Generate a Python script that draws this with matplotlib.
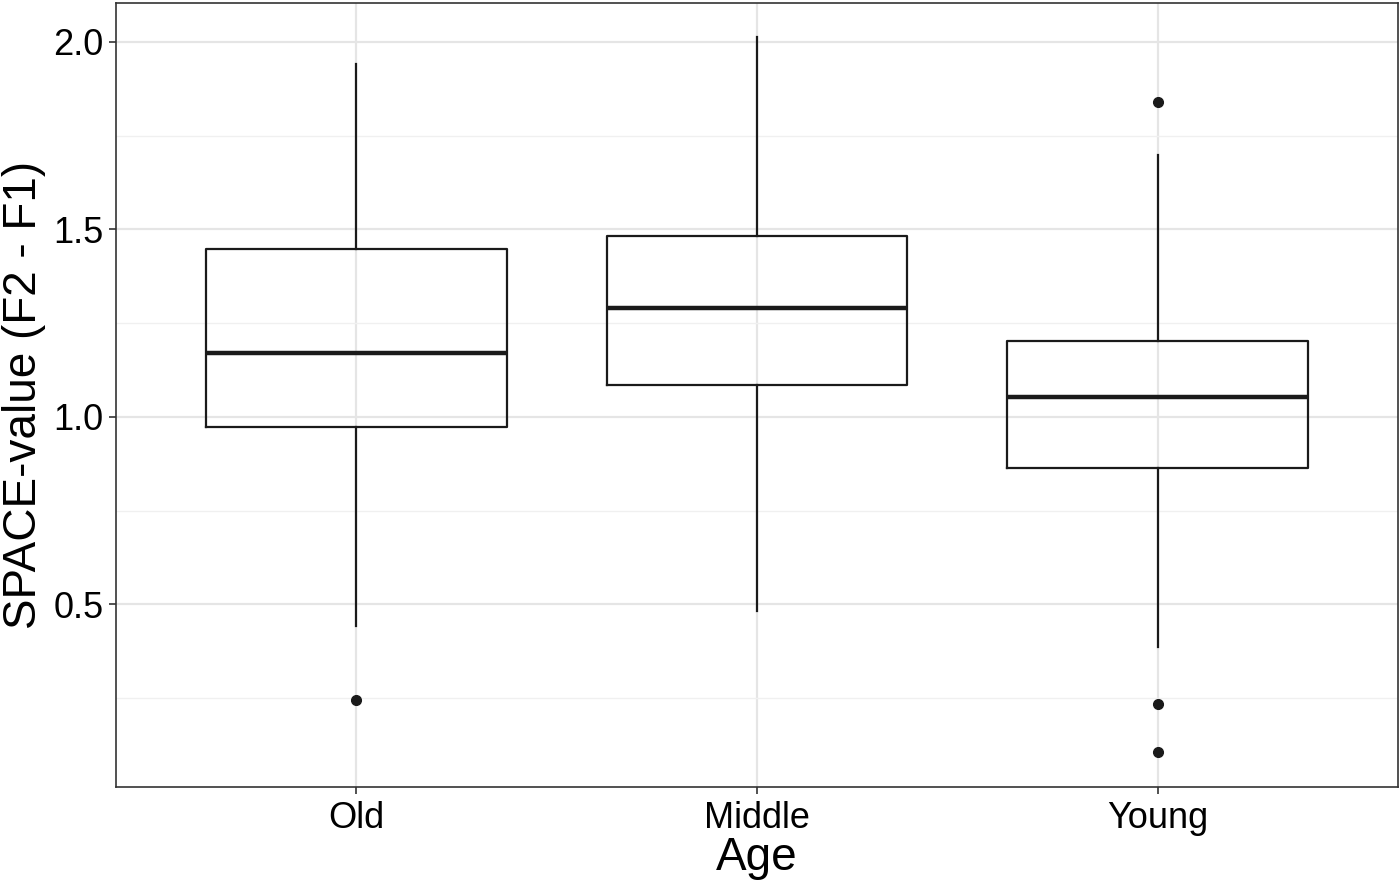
import matplotlib
matplotlib.use("Agg")
import matplotlib.pyplot as plt
from matplotlib.ticker import MultipleLocator

plt.rcParams['font.family'] = ['Liberation Sans', 'DejaVu Sans']

# 箱线图统计值
groups = ['Old', 'Middle', 'Young']
whisker_low = [0.443, 0.483, 0.387]
q1 = [0.973, 1.085, 0.864]
median = [1.171, 1.291, 1.053]
q3 = [1.448, 1.483, 1.203]
whisker_high = [1.941, 2.013, 1.699]
outliers = [[0.245], [], [1.840, 0.235, 0.107]]

stats = []
for i, name in enumerate(groups):
    stats.append(dict(label=name, whislo=whisker_low[i], q1=q1[i], med=median[i],
                      q3=q3[i], whishi=whisker_high[i], fliers=outliers[i]))

fig = plt.figure(figsize=(14, 8.83), dpi=100)
ax = fig.add_axes([116 / 1400, 1 - 787 / 883, (1398 - 116) / 1400, (787 - 3) / 883])

dark = '#1a1a1a'
ax.bxp(stats, positions=[1, 2, 3], widths=0.75, showcaps=False,
       boxprops=dict(color=dark, linewidth=1.6),
       whiskerprops=dict(color=dark, linewidth=1.6),
       medianprops=dict(color=dark, linewidth=3.2),
       flierprops=dict(marker='o', markerfacecolor=dark, markeredgecolor=dark,
                       markersize=7),
       zorder=3)

ax.set_xlim(0.4, 3.6)
ax.set_ylim(0.013, 2.104)
ax.yaxis.set_major_locator(MultipleLocator(0.5))
ax.yaxis.set_minor_locator(MultipleLocator(0.25))
ax.set_xticks([1, 2, 3])
ax.set_xticklabels(groups)

ax.grid(True, which='major', color='#e5e5e5', linewidth=1.6, zorder=0)
ax.grid(True, which='minor', axis='y', color='#f0f0f0', linewidth=1.0, zorder=0)
ax.set_axisbelow(True)
ax.tick_params(axis='y', which='minor', length=0)
ax.tick_params(axis='both', which='major', length=5, width=1.2, color='#333333',
               labelsize=26, labelcolor='black')
ax.tick_params(axis='x', pad=5)
ax.tick_params(axis='y', pad=4)

for sp in ax.spines.values():
    sp.set_color('#333333')
    sp.set_linewidth(1.2)

ax.set_xlabel('Age', fontsize=33, labelpad=0)
ax.set_ylabel('SPACE-value (F2 - F1)', fontsize=33, labelpad=5)

fig.savefig('out.png', dpi=100)
